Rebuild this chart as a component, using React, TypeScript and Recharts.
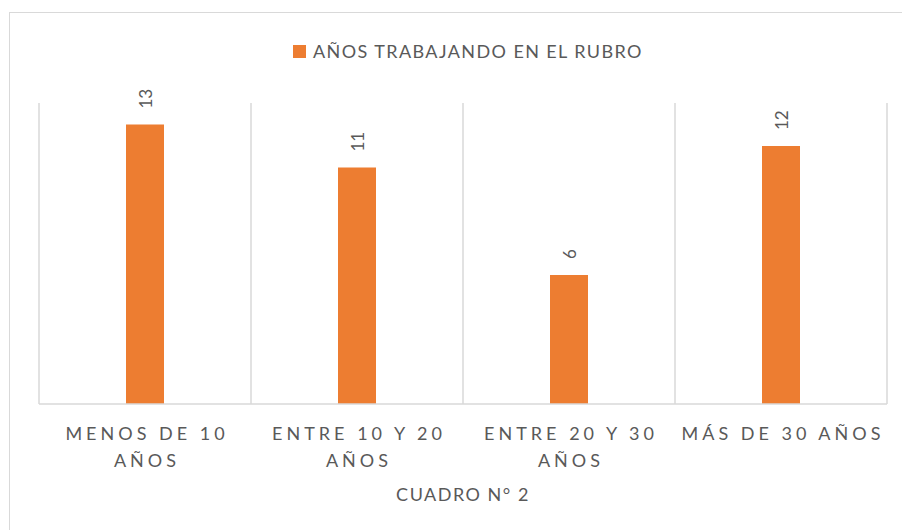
import React from "react";
import { BarChart, Bar, XAxis, YAxis, CartesianGrid, LabelList, Label } from "recharts";

const categories = ["MENOS DE 10 AÑOS", "ENTRE 10 Y 20 AÑOS", "ENTRE 20 Y 30 AÑOS", "MÁS DE 30 AÑOS"];
const values = [13, 11, 6, 12];
const seriesName = "AÑOS TRABAJANDO EN EL RUBRO";
const chartTitle = "CUADRO N° 2";
const yMax = 14;

const data = categories.map((c, i) => ({ name: c, value: values[i] }));

const FONT = "Lato, 'Liberation Sans', sans-serif";
const TEXT = "#595959";
const GRID = "#d9d9d9";
const ORANGE = "#ED7D31";

function wrap(s: string, max: number): string[] {
  const words = s.split(" ");
  const lines: string[] = [];
  let cur = "";
  for (const w of words) {
    const t = cur ? cur + " " + w : w;
    if (t.length > max && cur) {
      lines.push(cur);
      cur = w;
    } else cur = t;
  }
  if (cur) lines.push(cur);
  return lines;
}

const Tick = (props: any) => {
  const { x, y, payload } = props;
  const lines = wrap(String(payload.value), 14);
  return (
    <g>
      {lines.map((l, i) => (
        <text
          key={i}
          x={x + 2}
          y={y + 21 + i * 26.5}
          textAnchor="middle"
          dominantBaseline="central"
          fill={TEXT}
          fontSize={18}
          fontFamily={FONT}
          style={{ letterSpacing: "4px" }}
        >
          {l}
        </text>
      ))}
    </g>
  );
};

const RotLabel = (props: any) => {
  const { x, y, width, value } = props;
  const cx = x + width / 2;
  const ty = y - 16;
  return (
    <text
      x={cx}
      y={ty}
      transform={`rotate(-90 ${cx} ${ty})`}
      textAnchor="start"
      dominantBaseline="central"
      fill={TEXT}
      fontSize={17}
      fontFamily={FONT}
    >
      {value}
    </text>
  );
};

export default function App() {
  return (
    <div style={{ position: "absolute", left: 0, top: 0, width: 902, height: 530, background: "#fff" }}>
      <div
        style={{
          position: "absolute",
          left: 9,
          top: 12,
          width: 900,
          height: 530,
          border: `1.5px solid ${GRID}`,
          boxSizing: "border-box",
        }}
      />
      <div
        style={{
          position: "absolute",
          left: 293,
          top: 41,
          height: 20,
          display: "flex",
          alignItems: "center",
          fontFamily: FONT,
          color: TEXT,
          fontSize: 18,
          letterSpacing: "1.4px",
          whiteSpace: "nowrap",
        }}
      >
        <div style={{ width: 13, height: 13, background: ORANGE, marginRight: 7 }} />
        <span>{seriesName}</span>
      </div>
      <div style={{ position: "absolute", left: 0, top: 0 }}>
        <BarChart width={902} height={530} data={data} margin={{ top: 103, right: 15, left: 39, bottom: 26 }}>
          <CartesianGrid
            horizontal={false}
            stroke={GRID}
            strokeWidth={1.5}
            verticalCoordinatesGenerator={({ offset }: any) =>
              categories.map((_, i) => offset.left + (i * offset.width) / categories.length).concat([offset.left + offset.width])
            }
          />
          <YAxis hide domain={[0, yMax]} />
          <XAxis
            dataKey="name"
            height={100}
            interval={0}
            tickLine={false}
            axisLine={{ stroke: GRID, strokeWidth: 1.5 }}
            tick={<Tick />}
          >
            <Label value={chartTitle} position="insideBottom" offset={3} fill={TEXT} fontSize={18} fontFamily={FONT} style={{ letterSpacing: "1.5px" }} />
          </XAxis>
          <Bar dataKey="value" name={seriesName} fill={ORANGE} barSize={38} isAnimationActive={false}>
            <LabelList dataKey="value" content={<RotLabel />} />
          </Bar>
        </BarChart>
      </div>
    </div>
  );
}
